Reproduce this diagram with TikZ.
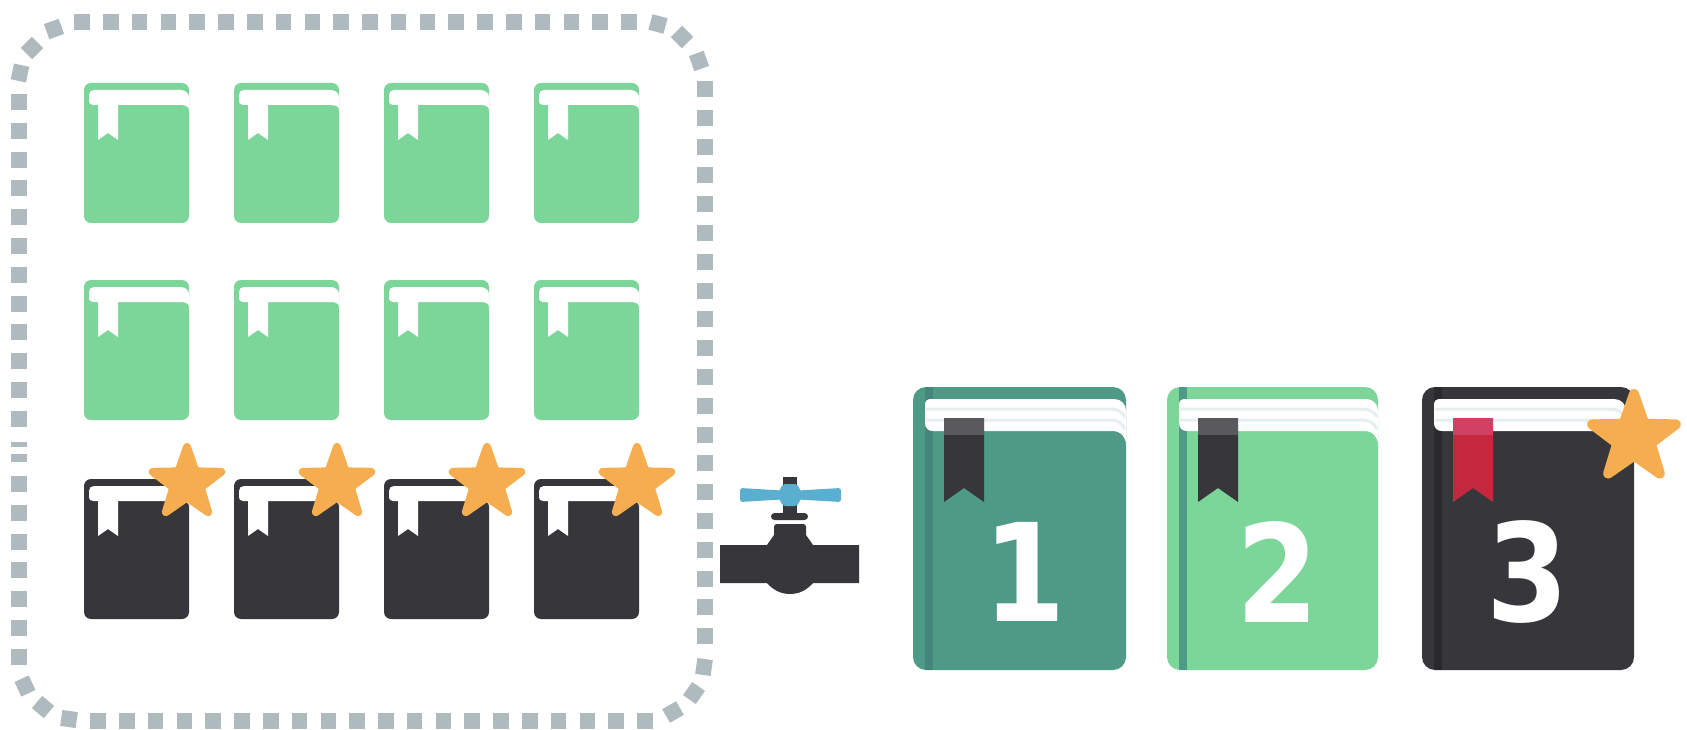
\documentclass[tikz,border=0pt]{standalone}
\usepackage{fontspec}
\setmainfont{DejaVu Sans}
\usetikzlibrary{calc}
\definecolor{mint}{HTML}{7CD69A}
\definecolor{teal}{HTML}{4F9A87}
\definecolor{tealdk}{HTML}{45857A}
\definecolor{ink}{HTML}{37373B}
\definecolor{inkdk}{HTML}{2A2A2E}
\definecolor{starc}{HTML}{F6AD50}
\definecolor{edge}{HTML}{AEBABE}
\definecolor{bluec}{HTML}{5AAFD0}
\definecolor{redc}{HTML}{C4283F}
\definecolor{redl}{HTML}{D04060}
\definecolor{inkl}{HTML}{5A5A5E}
\definecolor{leaf}{HTML}{E8EDEF}
\tikzset{numlabel/.style={text=white,font=\fontsize{136}{136}\selectfont\bfseries,inner sep=0pt,anchor=center,xscale=0.87,transform shape}}
\newcommand{\dab}[3]{\fill[edge,rotate around={#3:(#1,#2)}] (#1-7.8,#2-8) rectangle (#1+7.8,#2+8);}
\newcommand{\starat}[4]{% x, y, radius, stroke
  \fill[starc,draw=starc,line width=#4pt,line join=round] (#1,#2) ++(270:#3)
   \foreach \k in {0,...,4}{ -- ($(#1,#2)+(270+72*\k:#3)$) -- ($(#1,#2)+(306+72*\k:0.40*#3)$)} -- cycle;}
\newcommand{\smallbook}[3]{%
  \begin{scope}[shift={(#1,#2)}]
  \fill[#3,rounded corners=7pt] (0,0) rectangle (105,140);
  \fill[white] (5,12) .. controls (5,9) and (7,7) .. (10,7)
     -- (96,7) .. controls (101,7) and (105,10) .. (105,14) -- (105,27) .. controls (105,24) and (102,22) .. (97,22) -- (9,22) .. controls (6,22) and (5,20) .. (5,18) -- cycle;
  \fill[white] (14,20) -- (34,20) -- (34,57) -- (24,50) -- (14,57) -- cycle;
  \end{scope}}
\newcommand{\bigbook}[7]{% x, width, cover, spine, mark, marktop, page width
  \begin{scope}[shift={(#1,387)}]
  \fill[#3,rounded corners=13pt] (0,0) rectangle (#2,283);
  \fill[#4] (12,0) rectangle (20,283);
  \fill[white] (18,12) -- (#7-12,12) .. controls (#7-5,12) and (#7,17) .. (#7,24) -- (#7,58)
     .. controls (#7,50) and (#7-5,44) .. (#7-14,44) -- (20,44) .. controls (15,44) and (12,41) .. (12,36) -- (12,18) .. controls (12,14) and (14,12) .. (18,12) -- cycle;
  \draw[leaf,line width=3pt] (13,22) -- (#7-15,22) .. controls (#7-9,22) and (#7-4,25) .. (#7-1,30);
  \draw[leaf,line width=3pt] (13,33) -- (#7-15,33) .. controls (#7-9,33) and (#7-4,36) .. (#7-1,42);
  \fill[#5] (31,31) -- (71,31) -- (71,115) -- (51,101) -- (31,115) -- cycle;
  \fill[#6] (31,31) rectangle (71,48);
  \end{scope}}
\begin{document}
\begin{tikzpicture}[x=1pt,y=-1pt]
\useasboundingbox (0,0) rectangle (1687,730);
\fill[white] (0,0) rectangle (1687,730);
% dashed frame
\foreach \k in {0,...,19}{
  \dab{82+28.79*\k}{22}{0}
  \dab{705}{89+28.8*\k}{0}
  \dab{98+28.79*\k}{720.5}{0}
}
\foreach \k in {0,...,11}{ \dab{19}{102+28.8*\k}{0} }
\foreach \k in {0,...,6}{ \dab{19}{484+28.8*\k}{0} }
\fill[edge] (11,441.5) rectangle (27,446.5);
\fill[edge] (11,454) rectangle (27,462);
\dab{54}{29}{20}\dab{32}{48}{45}\dab{20}{73}{-12}
\dab{658}{24}{-15}\dab{682}{37}{-45}\dab{699}{61}{20}
\dab{704}{667}{-8}\dab{694}{693}{-35}\dab{673}{712}{-60}
\dab{69}{719}{-8}\dab{43}{707}{-40}\dab{25}{686}{25}
% small books
\foreach \x in {84,234,384,534}{
  \smallbook{\x}{83}{mint}
  \smallbook{\x}{280}{mint}
  \smallbook{\x}{479}{ink}
}
\foreach \x in {187,337,487,637}{ \starat{\x}{483}{36}{8} }
% valve
\fill[ink] (783,477) rectangle (797,513);
\fill[ink,rounded corners=3.5pt] (771,513) rectangle (808,520);
\fill[ink] (720,545) -- (767,545) -- (774,535) -- (774,527) .. controls (774,525) and (775,524) .. (777,524)
  -- (803,524) .. controls (805,524) and (806,525) .. (806,527) -- (806,535) -- (813,545) -- (859,545) -- (859,583) -- (813,583)
  .. controls (806,591) and (798,594) .. (790,594) .. controls (782,594) and (774,591) .. (767,583) -- (720,583) -- cycle;
\fill[bluec,rounded corners=2.5pt] (740,488) -- (790,491) -- (841,488) -- (841,502) -- (790,499) -- (740,502) -- cycle;
\fill[bluec,rounded corners=2pt] (777,495) -- (783,484) -- (797,484) -- (803,495) -- (797,506) -- (783,506) -- cycle;
% big books
\bigbook{913}{213}{teal}{tealdk}{ink}{inkl}{213}
\bigbook{1167}{211}{mint}{teal}{ink}{inkl}{211}
\bigbook{1422}{212}{ink}{inkdk}{redc}{redl}{204}
\node[numlabel] (one) at (1025,572) {1};
\node[numlabel] (two) at (1278,572) {2};
\node[numlabel] (three) at (1528,572) {3};
\starat{1634}{438}{44}{10}
\end{tikzpicture}
\end{document}
